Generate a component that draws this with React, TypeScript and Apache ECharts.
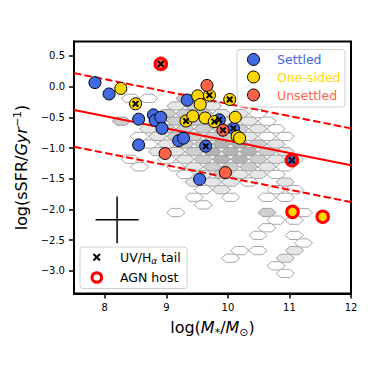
import React, { useEffect, useRef } from "react";
import * as echarts from "echarts";

// [logM, logsSFR, UV/Halpha tail flag, AGN host flag]
const settled = [
  [7.84, 0.065, 0, 0],
  [8.07, -0.12, 0, 0],
  [8.55, -0.53, 0, 0],
  [8.79, -0.46, 0, 0],
  [8.82, -0.55, 0, 0],
  [8.91, -0.5, 0, 0],
  [8.93, -0.68, 0, 0],
  [8.55, -0.95, 0, 0],
  [9.2, -0.88, 0, 0],
  [9.28, -0.84, 0, 0],
  [9.64, -0.97, 1, 0],
  [9.34, -0.22, 0, 0],
  [9.54, -1.51, 0, 0],
  [9.86, -0.54, 1, 0],
  [10.09, -0.68, 1, 0],
  [11.04, -1.2, 1, 1],
];
const oneSided = [
  [8.26, -0.03, 0, 0],
  [8.5, -0.28, 1, 0],
  [9.32, -0.56, 1, 0],
  [9.43, -0.48, 0, 0],
  [9.63, -0.51, 0, 0],
  [9.51, -0.15, 0, 0],
  [9.55, -0.29, 0, 0],
  [9.7, -0.14, 1, 0],
  [10.03, -0.21, 1, 0],
  [9.78, -0.57, 1, 0],
  [10.12, -0.5, 0, 0],
  [10.15, -0.81, 0, 0],
  [10.19, -0.84, 0, 0],
  [11.05, -2.04, 0, 1],
  [11.54, -2.12, 0, 1],
];
const unsettled = [
  [9.66, 0.02, 0, 0],
  [9.92, -0.71, 1, 0],
  [8.98, -1.09, 0, 0],
  [9.96, -1.4, 0, 0],
  [8.91, 0.37, 1, 1],
];

// main-sequence fit and its +/- scatter (end points)
const fitX = [7.5, 12];
const fitY = [-0.38, -1.28];
const upperY = [0.22, -0.68];
const lowerY = [-0.98, -1.88];

// typical error bar
const errCenter = [8.2, -2.17];
const errHalf = [0.35, 0.38];

const xTicks = [8, 9, 10, 11, 12];
const yTicks = [-3, -2.5, -2, -1.5, -1, -0.5, 0, 0.5];

// background hexbin: [column index, row index, density level]
const HEX_X0 = 7.528;
const HEX_DX = 0.148;
const HEX_Y0 = -0.067;
const HEX_DY = -0.124;
const HEX_H = 0.134;
const hexCells = [
  [19, 0, 0],
  [6, 1, 0], [8, 1, 0], [12, 1, 2], [14, 1, 1],
  [11, 2, 1], [13, 2, 2], [15, 2, 1],
  [10, 3, 2], [12, 3, 2], [14, 3, 2], [16, 3, 1], [18, 3, 1], [20, 3, 0],
  [5, 4, 2], [9, 4, 1], [11, 4, 2], [13, 4, 2], [15, 4, 2], [17, 4, 1], [19, 4, 1], [21, 4, 0],
  [8, 5, 1], [10, 5, 2], [12, 5, 2], [14, 5, 2], [16, 5, 2], [18, 5, 2], [20, 5, 1], [22, 5, 0],
  [7, 6, 0], [9, 6, 1], [11, 6, 2], [13, 6, 2], [15, 6, 2], [17, 6, 2], [19, 6, 1], [21, 6, 0], [23, 6, 0],
  [8, 7, 0], [10, 7, 1], [12, 7, 2], [14, 7, 2], [16, 7, 3], [18, 7, 3], [20, 7, 2], [22, 7, 1],
  [9, 8, 1], [11, 8, 1], [13, 8, 2], [15, 8, 3], [17, 8, 3], [19, 8, 3], [21, 8, 2], [23, 8, 1],
  [6, 9, 0], [10, 9, 0], [12, 9, 1], [14, 9, 2], [16, 9, 3], [18, 9, 3], [20, 9, 2], [22, 9, 1], [24, 9, 0],
  [7, 10, 0], [11, 10, 0], [13, 10, 1], [15, 10, 2], [17, 10, 2], [19, 10, 2], [21, 10, 1], [23, 10, 0],
  [12, 11, 0], [14, 11, 1], [16, 11, 2], [18, 11, 1], [20, 11, 1], [22, 11, 0],
  [13, 12, 1], [15, 12, 1], [17, 12, 1], [19, 12, 0], [23, 12, 1],
  [14, 13, 0], [16, 13, 1], [22, 13, 0], [24, 13, 0],
  [13, 14, 0], [17, 14, 0], [21, 14, 0], [23, 14, 0],
  [14, 15, 0],
  [11, 16, 0], [21, 16, 2], [25, 16, 0],
  [22, 17, 0], [24, 17, 0],
  [21, 18, 0],
  [20, 19, 0], [24, 19, 0],
  [25, 20, 0],
  [18, 21, 0], [20, 21, 0], [24, 21, 1],
  [17, 22, 0], [23, 22, 1],
  [22, 23, 0],
  [23, 24, 0],
];

const FONT = "DejaVu Sans";
const SHADES = ["#ffffff", "#e6e6e6", "#cecece", "#b4b4b4"];
const COLORS = { settled: "#4169E1", oneSided: "#FFD700", unsettled: "#FF6347" };
const X_PATH = "path://M0,2L2,0L5,3L8,0L10,2L7,5L10,8L8,10L5,7L2,10L0,8L3,5Z";

function buildOption() {
  const hexData = hexCells.map(([k, m, lv]) => [HEX_X0 + HEX_DX * k, HEX_Y0 + HEX_DY * m, lv]);
  const a = HEX_DX;
  const b = HEX_H;

  const cats = [
    { key: "settled", data: settled, color: COLORS.settled },
    { key: "oneSided", data: oneSided, color: COLORS.oneSided },
    { key: "unsettled", data: unsettled, color: COLORS.unsettled },
  ];

  const series: any[] = [
    {
      type: "custom",
      z: 1,
      data: hexData,
      renderItem: (params: any, api: any) => {
        const x = api.value(0);
        const y = api.value(1);
        const lv = api.value(2);
        const pts = [
          [x - a, y],
          [x - a / 2, y + b / 2],
          [x + a / 2, y + b / 2],
          [x + a, y],
          [x + a / 2, y - b / 2],
          [x - a / 2, y - b / 2],
        ].map((p) => api.coord(p));
        return {
          type: "polygon",
          shape: { points: pts },
          style: { fill: SHADES[lv], stroke: "#8f8f8f", lineWidth: 0.8 },
        };
      },
    },
    {
      type: "line",
      z: 2,
      data: fitX.map((x, i) => [x, fitY[i]]),
      symbol: "none",
      lineStyle: { color: "#ff0000", width: 2 },
    },
    {
      type: "line",
      z: 2,
      data: fitX.map((x, i) => [x, upperY[i]]),
      symbol: "none",
      lineStyle: { color: "#ff0000", width: 2, type: [7.4, 3.2] },
    },
    {
      type: "line",
      z: 2,
      data: fitX.map((x, i) => [x, lowerY[i]]),
      symbol: "none",
      lineStyle: { color: "#ff0000", width: 2, type: [7.4, 3.2] },
    },
    {
      type: "custom",
      z: 2,
      data: [[errCenter[0], errCenter[1], errHalf[0], errHalf[1]]],
      renderItem: (params: any, api: any) => {
        const x = api.value(0);
        const y = api.value(1);
        const ex = api.value(2);
        const ey = api.value(3);
        const l = api.coord([x - ex, y]);
        const r = api.coord([x + ex, y]);
        const t = api.coord([x, y + ey]);
        const bt = api.coord([x, y - ey]);
        return {
          type: "group",
          children: [
            { type: "line", shape: { x1: l[0], y1: l[1], x2: r[0], y2: r[1] }, style: { stroke: "#000", lineWidth: 1.5 } },
            { type: "line", shape: { x1: t[0], y1: t[1], x2: bt[0], y2: bt[1] }, style: { stroke: "#000", lineWidth: 1.5 } },
          ],
        };
      },
    },
  ];

  cats.forEach((c) => {
    series.push({
      type: "scatter",
      z: 3,
      data: c.data.filter((d) => !d[3]).map((d) => [d[0], d[1]]),
      symbol: "circle",
      symbolSize: 12,
      itemStyle: { color: c.color, borderColor: "#000", borderWidth: 1, opacity: 1 },
    });
  });
  cats.forEach((c) => {
    series.push({
      type: "scatter",
      z: 3,
      data: c.data.filter((d) => d[3]).map((d) => [d[0], d[1]]),
      symbol: "circle",
      symbolSize: 11.5,
      itemStyle: { color: c.color, borderColor: "#ff0000", borderWidth: 3, opacity: 1 },
    });
  });
  const tails = [...settled, ...oneSided, ...unsettled].filter((d) => d[2]).map((d) => [d[0], d[1]]);
  series.push({
    type: "scatter",
    z: 4,
    data: tails,
    symbol: X_PATH,
    symbolSize: 7,
    itemStyle: { color: "#000", opacity: 1 },
  });

  const fmt = (v: number) => v.toFixed(1).replace("-", "\u2212");

  return {
    animation: false,
    textStyle: { fontFamily: FONT },
    grid: {
      left: 74,
      right: 23,
      top: 41.5,
      bottom: 80.5,
      show: true,
      borderColor: "#000",
      borderWidth: 2,
      backgroundColor: "transparent",
    },
    xAxis: {
      type: "value",
      min: 7.5,
      max: 12,
      splitLine: { show: false },
      axisLine: { show: true, onZero: false, lineStyle: { color: "#000", width: 2 } },
      axisTick: { show: true, length: 5, lineStyle: { color: "#000", width: 1.5 }, customValues: xTicks },
      axisLabel: { color: "#000", fontSize: 10, margin: 9, fontFamily: FONT, customValues: xTicks, formatter: (v: number) => String(v) },
      name: "{n|log(}{i|M}{sub|*}{n|/}{i|M}{sub|\u2299}{n|)}",
      nameLocation: "middle",
      nameGap: 24,
      nameTextStyle: {
        rich: {
          n: { fontSize: 16, fontFamily: FONT, color: "#000", lineHeight: 20 },
          i: { fontSize: 16, fontFamily: FONT, fontStyle: "italic", color: "#000", lineHeight: 20 },
          sub: { fontSize: 11, fontFamily: FONT, color: "#000", lineHeight: 13, verticalAlign: "bottom" },
        },
      },
    },
    yAxis: {
      type: "value",
      min: -3.37,
      max: 0.735,
      splitLine: { show: false },
      axisLine: { show: true, onZero: false, lineStyle: { color: "#000", width: 2 } },
      axisTick: { show: true, length: 5, lineStyle: { color: "#000", width: 1.5 }, customValues: yTicks },
      axisLabel: { color: "#000", fontSize: 10, margin: 9, fontFamily: FONT, customValues: yTicks, formatter: fmt },
      name: "{n|log(sSFR/}{i|Gyr}{sup|\u22121}{n|)}",
      nameLocation: "middle",
      nameRotate: 90,
      nameGap: 37,
      nameTextStyle: {
        rich: {
          n: { fontSize: 16, fontFamily: FONT, color: "#000", lineHeight: 20 },
          i: { fontSize: 16, fontFamily: FONT, fontStyle: "italic", color: "#000", lineHeight: 20 },
          sup: { fontSize: 11, fontFamily: FONT, color: "#000", lineHeight: 13, verticalAlign: "top" },
        },
      },
    },
    graphic: [
      // upper legend
      {
        type: "rect",
        z: 100,
        shape: { x: 237, y: 49.5, width: 108, height: 57.5, r: 3 },
        style: { fill: "rgba(255,255,255,0.8)", stroke: "#d0d0d0", lineWidth: 1 },
      },
      { type: "circle", z: 101, shape: { cx: 253.5, cy: 59.5, r: 6 }, style: { fill: COLORS.settled, stroke: "#000", lineWidth: 1 } },
      { type: "circle", z: 101, shape: { cx: 253.5, cy: 77, r: 6 }, style: { fill: COLORS.oneSided, stroke: "#000", lineWidth: 1 } },
      { type: "circle", z: 101, shape: { cx: 253.5, cy: 95, r: 6 }, style: { fill: COLORS.unsettled, stroke: "#000", lineWidth: 1 } },
      { type: "text", z: 101, x: 277, y: 59.5, style: { text: "Settled", fill: COLORS.settled, font: `12.5px '${FONT}'`, verticalAlign: "middle" } },
      { type: "text", z: 101, x: 277, y: 77, style: { text: "One-sided", fill: COLORS.oneSided, font: `12.5px '${FONT}'`, verticalAlign: "middle" } },
      { type: "text", z: 101, x: 277, y: 95, style: { text: "Unsettled", fill: COLORS.unsettled, font: `12.5px '${FONT}'`, verticalAlign: "middle" } },
      // lower legend
      {
        type: "rect",
        z: 100,
        shape: { x: 80, y: 247, width: 107, height: 41.5, r: 3 },
        style: { fill: "rgba(255,255,255,0.8)", stroke: "#d0d0d0", lineWidth: 1 },
      },
      { type: "line", z: 101, shape: { x1: 93.5, y1: 254, x2: 100, y2: 260.5 }, style: { stroke: "#000", lineWidth: 2 } },
      { type: "line", z: 101, shape: { x1: 100, y1: 254, x2: 93.5, y2: 260.5 }, style: { stroke: "#000", lineWidth: 2 } },
      { type: "circle", z: 101, shape: { cx: 96.8, cy: 277.5, r: 4.8 }, style: { fill: "#fff", stroke: "#ff0000", lineWidth: 3 } },
      {
        type: "text",
        z: 101,
        x: 120,
        y: 257.5,
        style: {
          text: "{n|UV/H}{s|\u03b1}{n| tail}",
          verticalAlign: "middle",
          rich: {
            n: { fontSize: 12.5, fontFamily: FONT, fill: "#000", lineHeight: 16 },
            s: { fontSize: 9, fontFamily: FONT, fontStyle: "italic", fill: "#000", lineHeight: 11, verticalAlign: "bottom" },
          },
        },
      },
      { type: "text", z: 101, x: 120, y: 277.5, style: { text: "AGN host", fill: "#000", font: `12.5px '${FONT}'`, verticalAlign: "middle" } },
    ],
    series,
  };
}

export default function App() {
  const ref = useRef<HTMLDivElement>(null);
  useEffect(() => {
    const chart = echarts.init(ref.current!, null, { renderer: "svg" });
    chart.setOption(buildOption() as any);
    return () => chart.dispose();
  }, []);
  return <div ref={ref} style={{ position: "absolute", left: 0, top: 0, width: 374, height: 374 }} />;
}
